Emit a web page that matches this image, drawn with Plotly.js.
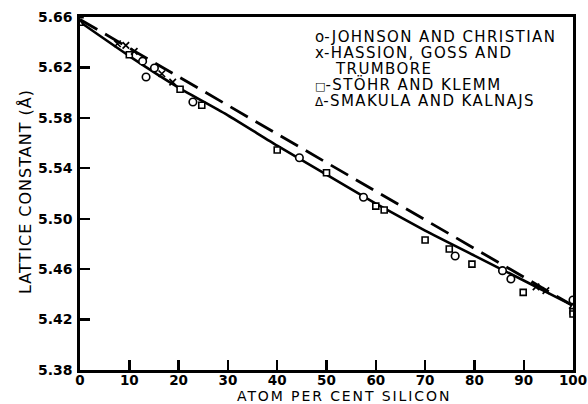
<!DOCTYPE html>
<html>
<head>
<meta charset="utf-8">
<script src="https://cdn.plot.ly/plotly-3.0.1.min.js"></script>
<style>html,body{margin:0;padding:0;background:#fff;}#chart{width:588px;height:404px;}</style>
</head>
<body>
<div id="chart"></div>
<script>
// Solid curve (fit to data)
const fitX = [0, 10, 20, 30, 40, 50, 60, 70, 80, 90, 100];
const fitY = [5.656, 5.629, 5.604, 5.582, 5.558, 5.535, 5.512, 5.4905, 5.4707, 5.451, 5.431];
// Dashed straight line (linear interpolation Ge - Si)
const vegX = [0, 100];
const vegY = [5.658, 5.431];
// Johnson and Christian (circles)
const jcX = [12.7, 13.4, 15.1, 22.9, 44.5, 57.5, 76.1, 85.7, 87.4, 100];
const jcY = [5.625, 5.6124, 5.6196, 5.5926, 5.5484, 5.517, 5.4704, 5.4588, 5.4522, 5.4355];
// Hassion, Goss and Trumbore (x)
const hgX = [7.6, 9.3, 11.0, 16.6, 18.8, 92.5, 94.5];
const hgY = [5.6388, 5.6375, 5.6327, 5.615, 5.6084, 5.446, 5.443];
// Stohr and Klemm (squares)
const skX = [0, 10, 20.3, 24.7, 40, 50, 60, 61.7, 70, 74.9, 79.5, 89.9, 100, 100];
const skY = [5.6618, 5.630, 5.6027, 5.590, 5.5545, 5.5365, 5.510, 5.5069, 5.4831, 5.476, 5.464, 5.4416, 5.427, 5.4244];
// Smakula and Kalnajs (triangles)
const smX = [0, 100];
const smY = [5.6547, 5.430];
// Ticks
const xTicks = [0, 10, 20, 30, 40, 50, 60, 70, 80, 90, 100];
const yTicks = [5.38, 5.42, 5.46, 5.50, 5.54, 5.58, 5.62, 5.66];
const legendSym = ["o", "x", "", "<span style='font-size:11px'>□</span>", "<span style='font-size:12px'>Δ</span>"];
const legendText = ["-JOHNSON AND CHRISTIAN", "-HASSION, GOSS AND", "TRUMBORE", "-STÖHR AND KLEMM", "-SMAKULA AND KALNAJS"];
const xTitle = "ATOM PER CENT SILICON";
const yTitle = "LATTICE CONSTANT (Å)";

const mk = (sym, sz) => ({symbol: sym, size: sz, color: '#fff', line: {color: '#000', width: 1.6}});
const traces = [
  {x: vegX, y: vegY, mode: 'lines', line: {color: '#000', width: 2.8, dash: '20px,9px'}, hoverinfo: 'skip'},
  {x: fitX, y: fitY, mode: 'lines', line: {color: '#000', width: 2.6, shape: 'spline', smoothing: 0.5}, hoverinfo: 'skip'},
  {x: skX, y: skY, mode: 'markers', marker: mk('square', 6)},
  {x: jcX, y: jcY, mode: 'markers', marker: mk('circle', 7.5)},
  {x: hgX, y: hgY, mode: 'markers', marker: {symbol: 'x-thin-open', size: 6.5, color: '#000', line: {color: '#000', width: 1.7}}},
  {x: smX, y: smY, mode: 'markers', marker: mk('triangle-up', 6.5)}
];

const L = 80, T = 17, W = 493, H = 353;
const px = v => (v - L) / W;
const pyy = v => (T + H - v) / H;
const sp = (t, ls) => "<span style='letter-spacing:" + ls + "px'>" + t + "</span>";

const legX = [313, 313, 333, 313, 313];
const legY = [37, 53, 69, 85, 101];
const anns = legendText.map((t, i) => ({
  text: legendSym[i] + sp(t, 1.4), xref: 'paper', yref: 'paper', x: px(legX[i]), y: pyy(legY[i]),
  xanchor: 'left', yanchor: 'middle', showarrow: false,
  font: {family: 'DejaVu Sans', size: 15, color: '#000'}
}));
anns.push({text: sp(xTitle, 1.9), xref: 'paper', yref: 'paper', x: px(344), y: pyy(396),
  xanchor: 'center', yanchor: 'middle', showarrow: false,
  font: {family: 'DejaVu Sans', size: 14, color: '#000'}});
anns.push({text: sp(yTitle, 1.0), xref: 'paper', yref: 'paper', x: px(25), y: pyy(192),
  xanchor: 'center', yanchor: 'middle', textangle: -90, showarrow: false,
  font: {family: 'DejaVu Sans', size: 16, color: '#000'}});

const axCommon = {
  showgrid: false, zeroline: false, showline: true, linecolor: '#000', linewidth: 2.6,
  mirror: true, ticks: 'inside', ticklen: 10, tickwidth: 2.4, tickcolor: '#000'
};
const layout = {
  width: 588, height: 404, showlegend: false,
  paper_bgcolor: '#fff', plot_bgcolor: '#fff',
  margin: {l: L, r: 588 - L - W, t: T, b: 404 - T - H, pad: 0},
  xaxis: Object.assign({}, axCommon, {range: [0, 100], tickvals: xTicks, ticktext: xTicks.map(String), ticklabelstandoff: -4,
    tickfont: {family: 'DejaVu Sans', size: 13.5, color: '#000', weight: 'bold'}}),
  yaxis: Object.assign({}, axCommon, {range: [5.38, 5.66], tickvals: yTicks, ticktext: yTicks.map(v => v.toFixed(2)), ticklabelstandoff: 2,
    tickfont: {family: 'DejaVu Sans', size: 14, color: '#000', weight: 'bold'}}),
  annotations: anns
};
Plotly.newPlot('chart', traces, layout, {displayModeBar: false, staticPlot: true});
</script>
</body>
</html>
